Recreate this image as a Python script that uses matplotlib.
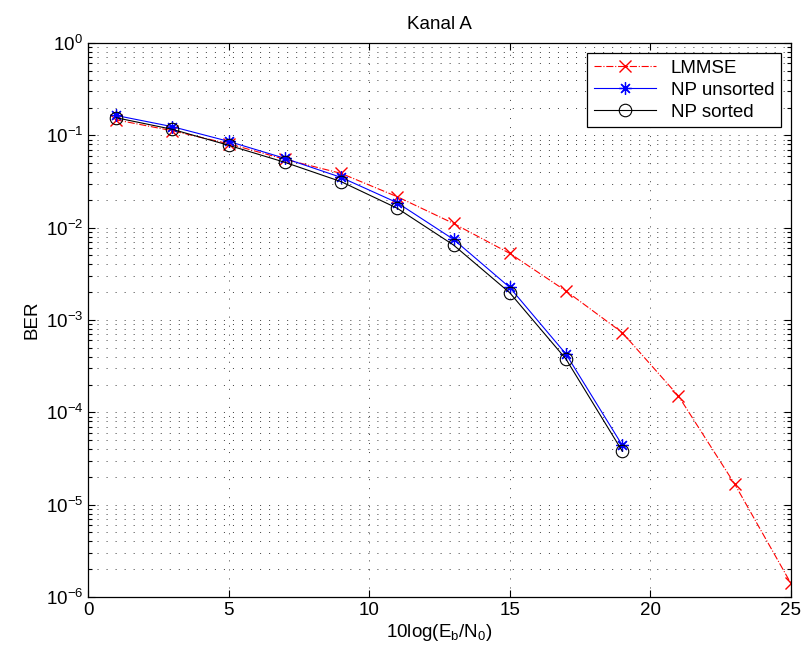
import numpy as np
import matplotlib
matplotlib.use('Agg')
import matplotlib.pyplot as plt
from matplotlib.ticker import FixedLocator, NullFormatter, MultipleLocator

plt.rcParams['font.family'] = ['Liberation Sans', 'DejaVu Sans']
plt.rcParams['mathtext.fontset'] = 'custom'
plt.rcParams['mathtext.rm'] = 'Liberation Sans'
plt.rcParams['mathtext.it'] = 'Liberation Sans'
plt.rcParams['mathtext.default'] = 'regular'

# Eb/N0 values in dB
snrLmmse = [1, 3, 5, 7, 9, 11, 13, 15, 17, 19, 21, 23, 25]
berLmmse = [0.147, 0.112, 0.081, 0.055, 0.0387, 0.0216, 0.0111, 0.00526,
            0.00206, 7.3e-4, 1.5e-4, 1.67e-5, 1.4e-6]

snrNp = [1, 3, 5, 7, 9, 11, 13, 15, 17, 19]
berNpUnsorted = [0.164, 0.124, 0.086, 0.0563, 0.035, 0.0186, 0.00746,
                 0.00225, 4.27e-4, 4.4e-5]
berNpSorted = [0.155, 0.116, 0.078, 0.051, 0.0315, 0.0162, 0.00648,
               0.00197, 3.77e-4, 3.8e-5]

decades = [1e-6, 1e-5, 1e-4, 1e-3, 1e-2, 1e-1, 1e0]

fs = 13.5

figure = plt.figure(figsize=(8.03, 6.53), dpi=100)
axes = figure.add_axes([0.1096, 0.0858, 0.8754, 0.8484])

# MATLAB-style asterisk: 8 spokes
asterisk = (8, 2, 0)

axes.semilogy(snrLmmse, berLmmse, 'r-.', marker='x', markersize=8,
              linewidth=0.8, label='LMMSE')
axes.semilogy(snrNp, berNpUnsorted, 'b-', marker=asterisk, markersize=9,
              markeredgewidth=0.9, linewidth=0.8, label='NP unsorted')
axes.semilogy(snrNp, berNpSorted, 'k-', marker='o', markersize=9,
              markerfacecolor='none', markeredgewidth=0.8, linewidth=0.8,
              label='NP sorted')

axes.set_xlim(0, 25)
axes.set_ylim(1e-6, 1)
axes.xaxis.set_major_locator(MultipleLocator(5))
axes.yaxis.set_major_locator(FixedLocator(decades))
minors = [d * k for d in decades[:-1] for k in range(2, 10)]
axes.yaxis.set_minor_locator(FixedLocator(minors))
axes.yaxis.set_minor_formatter(NullFormatter())

dots = (0, (1.5, 11.5))
axes.grid(True, which='major', axis='both', color='k', linestyle=dots, linewidth=0.5)
axes.grid(True, which='minor', axis='y', color='k', linestyle=dots, linewidth=0.5)

axes.tick_params(which='both', direction='in', top=True, right=True,
                 labelsize=fs, width=0.8)
axes.tick_params(which='major', length=5)
axes.tick_params(which='minor', length=3)
for spine in axes.spines.values():
    spine.set_linewidth(0.9)

axes.set_title('Kanal A', fontsize=fs, pad=10)
axes.set_xlabel(r'10log(E$_\mathrm{b}$/N$_0$)', fontsize=fs, labelpad=2)
axes.set_ylabel('BER', fontsize=fs)

leg = axes.legend(loc='upper right', fontsize=fs, fancybox=False, framealpha=1,
                  edgecolor='k', handlelength=3.3, labelspacing=0.25,
                  borderaxespad=0.55, borderpad=0.35)
leg.get_frame().set_linewidth(0.9)

figure.savefig('out.png', dpi=100)
